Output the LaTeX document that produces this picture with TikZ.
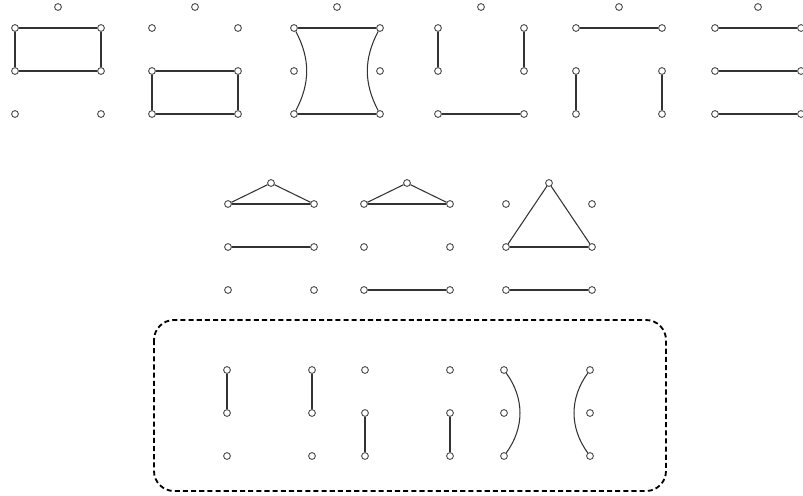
\documentclass[tikz,border=0pt]{standalone}
\usepackage{tikz}

\begin{document}
\begin{tikzpicture}[
  x=0.025cm, y=-0.025cm,
  v/.style={circle, draw=black!70, fill=white, line width=0.65pt, inner sep=0pt, minimum size=0.17cm},
  e/.style={draw=black!80, line width=0.75pt},
  frame/.style={draw=black, line width=1.3pt, dash pattern=on 3.6pt off 2.2pt, rounded corners=0.5cm}
]
\useasboundingbox (0,0) rectangle (803,495);

% top row: seven points per group
\foreach \g/\x in {1/15,2/152,3/294,4/438,5/576,6/715}{
  \node[v] (a\g-t) at (\x+43,7) {};
  \foreach \r/\y in {1/28,2/71,3/114}{
    \node[v] (a\g-l\r) at (\x,\y) {};
    \node[v] (a\g-r\r) at (\x+86,\y) {};
  }
}

% middle row
\foreach \g/\x in {1/228,2/364,3/506}{
  \node[v] (b\g-t) at (\x+43,183) {};
  \foreach \r/\y in {1/204,2/247,3/290}{
    \node[v] (b\g-l\r) at (\x,\y) {};
    \node[v] (b\g-r\r) at (\x+86,\y) {};
  }
}

% bottom row: three points per column
\foreach \c/\x in {1/227,2/312,3/365,4/450,5/504,6/590}{
  \foreach \r/\y in {1/370,2/413,3/456}{
    \node[v] (c\c-\r) at (\x,\y) {};
  }
}

% top row edges
\draw[e] (a1-l1) -- (a1-r1) -- (a1-r2) -- (a1-l2) -- (a1-l1);
\draw[e] (a2-l2) -- (a2-r2) -- (a2-r3) -- (a2-l3) -- (a2-l2);
\draw[e] (a3-l1) -- (a3-r1);
\draw[e] (a3-l3) -- (a3-r3);
\draw[e] (a3-l1) to[bend left=28] (a3-l3);
\draw[e] (a3-r1) to[bend right=28] (a3-r3);
\draw[e] (a4-l1) -- (a4-l2);
\draw[e] (a4-r1) -- (a4-r2);
\draw[e] (a4-l3) -- (a4-r3);
\draw[e] (a5-l1) -- (a5-r1);
\draw[e] (a5-l2) -- (a5-l3);
\draw[e] (a5-r2) -- (a5-r3);
\draw[e] (a6-l1) -- (a6-r1);
\draw[e] (a6-l2) -- (a6-r2);
\draw[e] (a6-l3) -- (a6-r3);

% middle row edges
\draw[e] (b1-t) -- (b1-l1);
\draw[e] (b1-t) -- (b1-r1);
\draw[e] (b1-l1) -- (b1-r1);
\draw[e] (b1-l2) -- (b1-r2);
\draw[e] (b2-t) -- (b2-l1);
\draw[e] (b2-t) -- (b2-r1);
\draw[e] (b2-l1) -- (b2-r1);
\draw[e] (b2-l3) -- (b2-r3);
\draw[e] (b3-t) -- (b3-l2);
\draw[e] (b3-t) -- (b3-r2);
\draw[e] (b3-l2) -- (b3-r2);
\draw[e] (b3-l3) -- (b3-r3);

% bottom row edges
\draw[e] (c1-1) -- (c1-2);
\draw[e] (c2-1) -- (c2-2);
\draw[e] (c3-2) -- (c3-3);
\draw[e] (c4-2) -- (c4-3);
\draw[e] (c5-1) to[bend left=36] (c5-3);
\draw[e] (c6-1) to[bend right=36] (c6-3);

\draw[frame] (154,320) rectangle (666,491);
\end{tikzpicture}
\end{document}
